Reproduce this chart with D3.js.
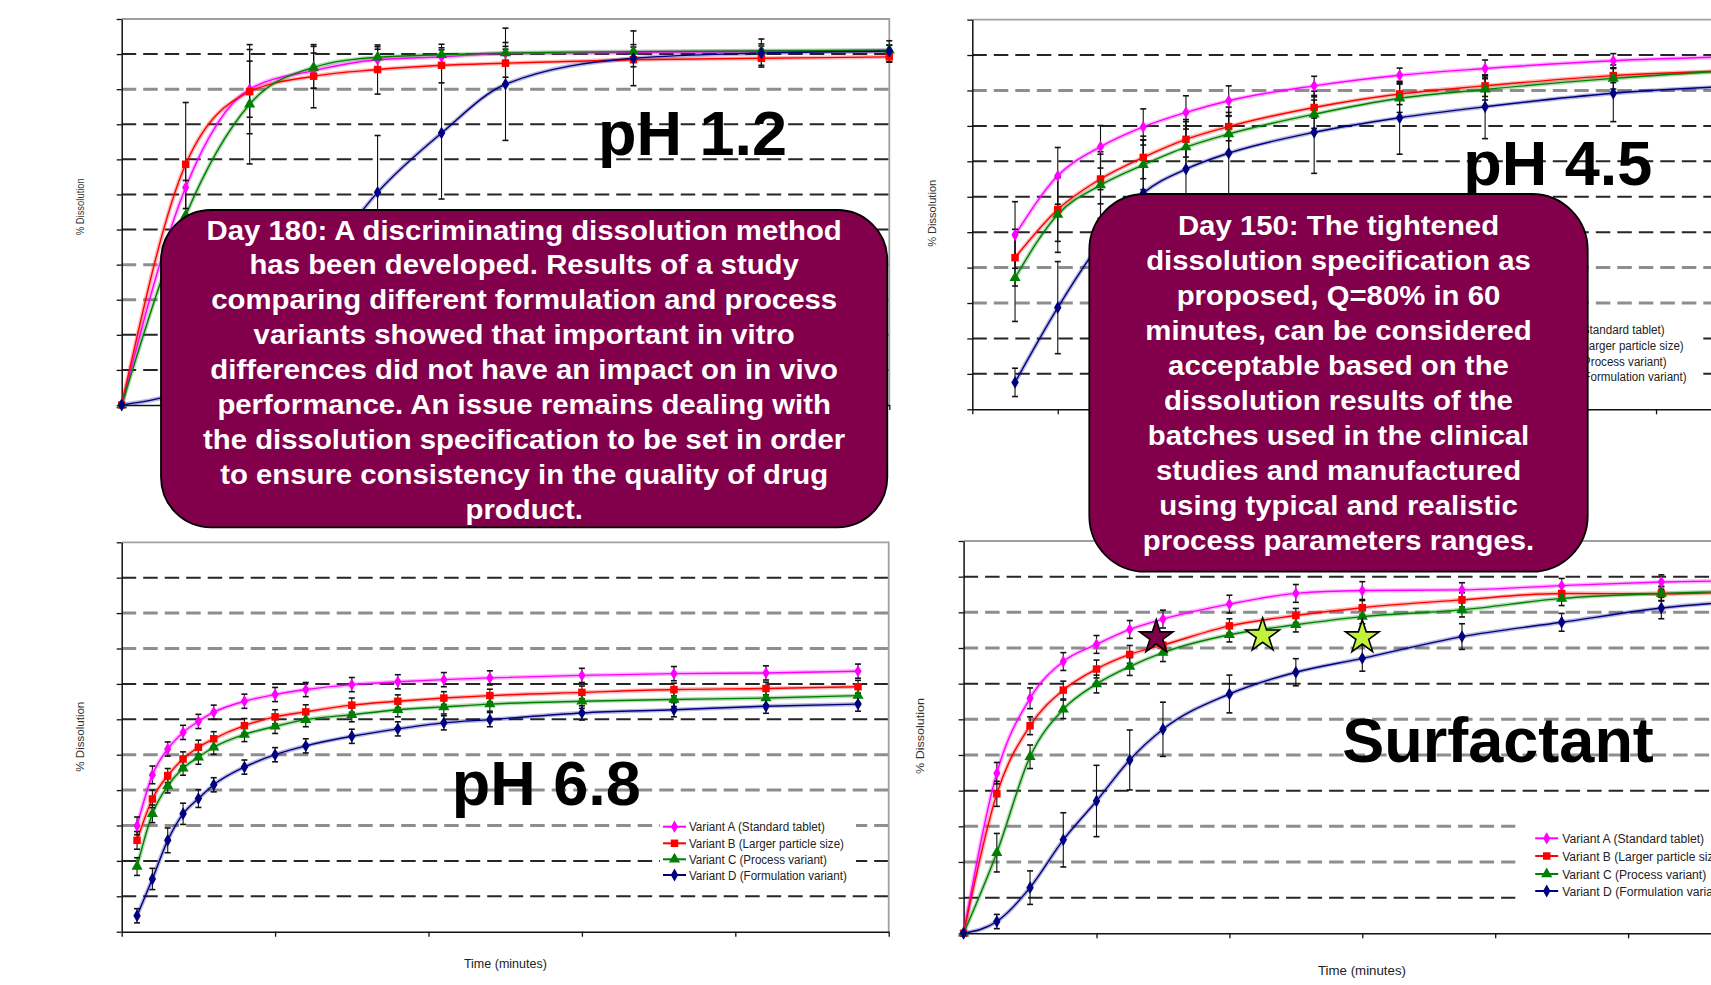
<!DOCTYPE html>
<html>
<head>
<meta charset="utf-8">
<script src="https://cdn.jsdelivr.net/npm/d3@7"></script>
<style>
  html, body { margin: 0; padding: 0; background: #fff; overflow: hidden; }
  svg { display: block; }
  text { font-family: "Liberation Sans", Arial, sans-serif; }
</style>
</head>
<body>
<svg id="chart" width="1711" height="985"></svg>
<script>
// ---------- data ----------
const seriesNames = [
  "Variant A (Standard tablet)",
  "Variant B (Larger particle size)",
  "Variant C (Process variant)",
  "Variant D (Formulation variant)"
];

// pH 1.2
const ph12Time = [0, 5, 10, 15, 20, 25, 30, 40, 50, 60];
const ph12A = [0, 62, 90, 95.3, 98.4, 99.2, 100.2, 100.5, 100.8, 101];
const ph12B = [0, 68.6, 89.3, 93.7, 95.6, 96.8, 97.4, 98.4, 98.8, 99.2];
const ph12C = [0, 54, 85.7, 96.2, 99.1, 99.8, 100.3, 100.7, 100.9, 101.1];
const ph12D = [0, 4, 13, 37, 60.6, 77.5, 91.4, 98.8, 100.3, 100.8];
const ph12ErrA = [0, 6, 8, 5, 3, 2, 2, 1.5, 1.5, 1.5];
const ph12ErrB = [0, 17.6, 12, 9, 7, 5, 4, 2, 2, 1.5];
const ph12ErrC = [0, 10, 17, 6, 3, 3, 3, 2, 2, 1.5];
const ph12ErrD = [0, 3, 8, 15, 16.2, 18.8, 16, 7.8, 4, 3];

// pH 4.5
const ph45Time = [5, 10, 15, 20, 25, 30, 40, 50, 60, 75, 90];
const ph45A = [49.2, 65.9, 74.1, 79.7, 83.8, 87.1, 91.3, 94.3, 96.2, 98.4, 99.6];
const ph45B = [42.8, 56.4, 65.0, 71.1, 76.2, 79.8, 85.2, 89.0, 91.3, 94.2, 95.6];
const ph45C = [37.1, 55.0, 63.3, 69.0, 74.0, 77.7, 83.3, 87.8, 90.3, 93.4, 95.8];
const ph45D = [7.6, 28.7, 47, 61.0, 67.8, 72.3, 78.2, 82.3, 85.4, 89.2, 91.3];
const ph45ErrA = [9.4, 8, 6, 5.1, 4.7, 4.2, 2.7, 2, 2.4, 2, 2];
const ph45ErrB = [8, 9, 7, 6, 5, 4, 3, 3, 3, 2, 2];
const ph45ErrC = [12.3, 10.7, 9.4, 7, 6, 5, 4, 4, 3, 3, 3];
const ph45ErrD = [4, 13, 15, 15, 14, 13, 11.6, 10.3, 9, 8, 7];

// pH 6.8
const ph68Time = [1, 2, 3, 4, 5, 6, 8, 10, 12, 15, 18, 21, 24, 30, 36, 42, 48];
const ph68A = [29.9, 44.3, 51.6, 56.3, 59.4, 62.0, 65.1, 67.0, 68.4, 69.8, 70.6, 71.2, 71.7, 72.4, 72.9, 73.1, 73.6];
const ph68B = [25.8, 37.5, 44.1, 48.8, 52.1, 54.5, 58.2, 60.7, 62.1, 64.0, 65.1, 66.0, 66.7, 67.6, 68.4, 68.7, 69.2];
const ph68C = [18.4, 33.3, 41.2, 46.2, 49.3, 52.1, 55.7, 58.0, 59.9, 61.3, 62.7, 63.5, 64.3, 65.1, 65.6, 66.0, 66.7];
const ph68D = [4.5, 14.9, 25.8, 33.3, 37.6, 41.5, 46.5, 50.0, 52.5, 55.2, 57.3, 59.0, 59.9, 61.8, 62.7, 63.7, 64.3];
const ph68ErrA = [2.5, 2.5, 2, 2, 2, 2, 2, 2, 2, 2, 2, 2, 2, 2, 2, 2, 2];
const ph68ErrB = [2.5, 2.5, 2, 2, 2, 2, 2, 2, 2, 2, 1.8, 1.8, 1.8, 1.8, 1.8, 1.8, 1.8];
const ph68ErrC = [2.5, 2.5, 2, 2, 2, 2, 2, 2, 2, 2, 2, 2, 2, 2, 2, 2, 2];
const ph68ErrD = [2, 3, 3.5, 3, 2.5, 2, 2, 2, 2, 2, 2, 2, 2, 2, 2, 2, 2];

// Surfactant medium
const surfTime = [0, 5, 10, 15, 20, 25, 30, 40, 50, 60, 75, 90, 105, 120];
const surfA = [0, 44.9, 65.9, 76.2, 81.0, 85.2, 88.1, 92.3, 95.3, 96.1, 96.3, 97.5, 98.5, 99.0];
const surfB = [0, 39.1, 58.2, 68.2, 74.1, 78.2, 80.8, 86.2, 89.1, 91.3, 93.5, 95.3, 95.2, 96.0];
const surfC = [0, 22.6, 49.5, 62.8, 69.9, 74.8, 78.7, 83.7, 86.5, 88.8, 90.7, 93.9, 95.3, 96.2];
const surfD = [0, 3.3, 12.8, 26.2, 37.1, 48.6, 57.2, 67.1, 73.2, 77.1, 83.2, 87.2, 91.2, 93.5];
const surfErrA = [0, 3, 2.9, 2.5, 2.5, 2.5, 2.5, 2.5, 2.5, 2.5, 2, 2, 2, 2];
const surfErrB = [0, 3.5, 2.5, 2.5, 2.5, 2.5, 2.5, 2, 2, 2, 2, 2, 2, 2];
const surfErrC = [0, 5.4, 3.3, 2.6, 2.5, 2.5, 2.5, 2, 2, 2, 2, 2, 2, 2];
const surfErrD = [0, 2, 4.7, 7.6, 10, 8.4, 7.6, 5.3, 3.8, 3.6, 3.6, 2.5, 3, 3];

// Specification check points on the surfactant profile
const starTime = [29, 45, 60];
const starValue = [83, 83.5, 83];
const starKind = ["current", "target", "target"];

// Gridline levels (% dissolved) and y-axis ticks
const gridLevels = [10, 20, 30, 40, 50, 60, 70, 80, 90, 100];
const yTicks = [0, 10, 20, 30, 40, 50, 60, 70, 80, 90, 100, 110];

// Call-out texts
const noteDay180 = [
  "Day 180: A discriminating dissolution method",
  "has been developed. Results of a study",
  "comparing different formulation and process",
  "variants showed that important in vitro",
  "differences did not have an impact on in vivo",
  "performance. An issue remains dealing with",
  "the dissolution specification to be set in order",
  "to ensure consistency in the quality of drug",
  "product."
];
const noteDay150 = [
  "Day 150: The tightened",
  "dissolution specification as",
  "proposed, Q=80% in 60",
  "minutes, can be considered",
  "acceptable based on the",
  "dissolution results of the",
  "batches used in the clinical",
  "studies and manufactured",
  "using typical and realistic",
  "process parameters ranges."
];

// ---------- styling ----------
const colors = ["#ff00ff", "#ff0000", "#008000", "#000080"];
const symbolTypes = [d3.symbolDiamond, d3.symbolSquare, d3.symbolTriangle, d3.symbolDiamond];
const symbolSizes = [44, 56, 54, 48];

// ---------- panel layout ----------
const panels = [
  {
    title: "pH 1.2", titleX: 598, titleY: 155,
    left: 121.7, right: 889.3, top: 19, bottom: 405,
    xMax: 60, xStep: 10,
    time: ph12Time, series: [ph12A, ph12B, ph12C, ph12D],
    errs: [ph12ErrA, ph12ErrB, ph12ErrC, ph12ErrD],
    shade: "bbggbbbbgb",
    yLabel: { cx: 80.3, cy: 206.7, len: 57 }
  },
  {
    title: "pH 4.5", titleX: 1463.3, titleY: 185,
    left: 972.3, right: 1741.5, top: 19.6, bottom: 409.3,
    xMax: 90, xStep: 10,
    time: ph45Time, series: [ph45A, ph45B, ph45C, ph45D],
    errs: [ph45ErrA, ph45ErrB, ph45ErrC, ph45ErrD],
    shade: "bbggbbbbgb",
    yLabel: { cx: 931.7, cy: 213.3, len: 67 },
    legend: { markerX: 1514.3, textX: 1528.7, rows: [329.3, 345.3, 361, 376.7], lens: [136, 155, 138, 158], bg: [1499, 319, 198, 68] }
  },
  {
    title: "pH 6.8", titleX: 451.8, titleY: 805,
    left: 121.7, right: 888.7, top: 542.3, bottom: 931.7,
    xMax: 50, xStep: 10,
    time: ph68Time, series: [ph68A, ph68B, ph68C, ph68D],
    errs: [ph68ErrA, ph68ErrB, ph68ErrC, ph68ErrD],
    shade: "bbgggbbggb",
    yLabel: { cx: 80.4, cy: 736.7, len: 70 },
    xLabel: { cx: 505.4, y: 967.7, len: 83 },
    legend: { markerX: 674.5, textX: 688.9, rows: [826.7, 843.3, 859.3, 875], lens: [136, 155, 138, 158], bg: [660, 816, 196, 68] }
  },
  {
    title: "Surfactant", titleX: 1342.3, titleY: 761.7,
    left: 963.6, right: 1761, top: 541, bottom: 933.3,
    xMax: 120, xStep: 20,
    time: surfTime, series: [surfA, surfB, surfC, surfD],
    errs: [surfErrA, surfErrB, surfErrC, surfErrD],
    shade: "bggbggbggb",
    yLabel: { cx: 920, cy: 736, len: 76 },
    xLabel: { cx: 1362, y: 975, len: 88 },
    legend: { markerX: 1546.7, textX: 1562.2, rows: [838.3, 856, 874, 891], lens: [142, 162, 144, 165], bg: [1515.5, 821, 230, 86] },
    stars: true
  }
];

const svg = d3.select("#chart");

function drawPanel(p) {
  const g = svg.append("g");
  const x = d3.scaleLinear().domain([0, p.xMax]).range([p.left, p.right]);
  const y = d3.scaleLinear().domain([0, 110]).range([p.bottom, p.top]);

  // dashed horizontal gridlines
  gridLevels.forEach((v, i) => {
    const light = p.shade[i] === "g";
    g.append("line")
      .attr("x1", p.left).attr("x2", p.right)
      .attr("y1", y(v)).attr("y2", y(v))
      .attr("stroke", light ? "#8e8e8e" : "#262626")
      .attr("stroke-width", light ? 3 : 2)
      .attr("stroke-dasharray", "14.5,7");
  });

  // plot frame: top and right in grey
  g.append("path")
    .attr("d", `M${p.left},${y(110)}H${p.right}V${p.bottom}`)
    .attr("fill", "none").attr("stroke", "#a0a0a0").attr("stroke-width", 1.8);

  // axes
  const ay = g.append("g").attr("transform", `translate(${p.left},0)`)
    .call(d3.axisLeft(y).tickValues(yTicks).tickSize(5).tickSizeOuter(0).tickFormat(""));
  const ax = g.append("g").attr("transform", `translate(0,${p.bottom})`)
    .call(d3.axisBottom(x).tickValues(d3.range(0, p.xMax + 0.01, p.xStep)).tickSize(5).tickSizeOuter(0).tickFormat(""));
  [ay, ax].forEach(a => {
    a.select(".domain").attr("stroke", "#111").attr("stroke-width", 1.5);
    a.selectAll(".tick line").attr("stroke", "#111").attr("stroke-width", 1.3);
  });

  const line = d3.line()
    .x((d, i) => x(p.time[i]))
    .y(d => y(d))
    .curve(d3.curveMonotoneX);

  // soft halo under each curve, then the curve
  p.series.forEach((s, k) => {
    g.append("path").datum(s).attr("d", line)
      .attr("fill", "none").attr("stroke", colors[k])
      .attr("stroke-opacity", 0.28).attr("stroke-width", 4.2);
  });
  p.series.forEach((s, k) => {
    g.append("path").datum(s).attr("d", line)
      .attr("fill", "none").attr("stroke", colors[k]).attr("stroke-width", 1.4);
  });

  // error bars (±SD)
  p.series.forEach((s, k) => {
    const e = p.errs[k];
    s.forEach((v, i) => {
      if (!e[i]) return;
      const cx = x(p.time[i]);
      const y1 = y(v + e[i]), y2 = y(v - e[i]);
      g.append("line").attr("x1", cx).attr("x2", cx).attr("y1", y1).attr("y2", y2)
        .attr("stroke", "#111").attr("stroke-width", 1.1);
      [y1, y2].forEach(yy => g.append("line")
        .attr("x1", cx - 3).attr("x2", cx + 3).attr("y1", yy).attr("y2", yy)
        .attr("stroke", "#111").attr("stroke-width", 1.6));
    });
  });

  // markers
  p.series.forEach((s, k) => {
    const sym = d3.symbol().type(symbolTypes[k]).size(symbolSizes[k]);
    s.forEach((v, i) => {
      g.append("path").attr("d", sym)
        .attr("transform", `translate(${x(p.time[i])},${y(v)})`)
        .attr("fill", colors[k]);
    });
  });

  // specification stars
  if (p.stars) {
    const star = d3.symbol().type(d3.symbolStar).size(350);
    starTime.forEach((t, i) => {
      g.append("path").attr("d", star)
        .attr("transform", `translate(${x(t)},${y(starValue[i])})`)
        .attr("fill", starKind[i] === "current" ? "#7e0046" : "#c3f23a")
        .attr("stroke", "#000").attr("stroke-width", 1.6)
        .attr("stroke-linejoin", "miter");
    });
  }

  // legend
  const L = p.legend;
  if (L) {
    g.append("rect").attr("x", L.bg[0]).attr("y", L.bg[1])
      .attr("width", L.bg[2]).attr("height", L.bg[3]).attr("fill", "#fff");
    seriesNames.forEach((name, k) => {
      const ry = L.rows[k];
      g.append("line").attr("x1", L.markerX - 11.5).attr("x2", L.markerX + 11.5)
        .attr("y1", ry).attr("y2", ry).attr("stroke", colors[k]).attr("stroke-width", 2);
      g.append("path").attr("d", d3.symbol().type(symbolTypes[k]).size(symbolSizes[k]))
        .attr("transform", `translate(${L.markerX},${ry})`).attr("fill", colors[k]);
      g.append("text").attr("x", L.textX).attr("y", ry + 4.5)
        .attr("font-size", 12.5).attr("fill", "#222")
        .attr("textLength", L.lens[k]).attr("lengthAdjust", "spacingAndGlyphs")
        .text(name);
    });
  }

  // axis titles
  g.append("text")
    .attr("transform", `translate(${p.yLabel.cx + 4},${p.yLabel.cy}) rotate(-90)`)
    .attr("text-anchor", "middle").attr("font-size", 11).attr("fill", "#333")
    .attr("textLength", p.yLabel.len).attr("lengthAdjust", "spacingAndGlyphs")
    .text("% Dissolution");
  if (p.xLabel) {
    g.append("text")
      .attr("x", p.xLabel.cx).attr("y", p.xLabel.y)
      .attr("text-anchor", "middle").attr("font-size", 12).attr("fill", "#222")
      .attr("textLength", p.xLabel.len).attr("lengthAdjust", "spacingAndGlyphs")
      .text("Time (minutes)");
  }

  // medium label
  g.append("text").attr("x", p.titleX).attr("y", p.titleY)
    .attr("font-size", 63).attr("font-weight", "bold").attr("fill", "#000")
    .text(p.title);
}

panels.forEach(drawPanel);

// ---------- call-out boxes ----------
const notes = [
  { lines: noteDay180, x: 161, y: 210, w: 726.3, h: 317.3, r: 50, first: 239.5, step: 34.9 },
  { lines: noteDay150, x: 1089.3, y: 194, w: 498.4, h: 377.7, r: 56, first: 235, step: 35 }
];
notes.forEach(n => {
  const g = svg.append("g");
  g.append("rect").attr("x", n.x).attr("y", n.y).attr("width", n.w).attr("height", n.h)
    .attr("rx", n.r).attr("ry", n.r)
    .attr("fill", "#82004b").attr("stroke", "#000").attr("stroke-width", 1.8);
  // slightly widened bold lettering, centred in the box
  g.selectAll("text").data(n.lines).enter().append("text")
    .attr("transform", (d, i) => `translate(${n.x + n.w / 2},${n.first + i * n.step}) scale(1.087,1)`)
    .attr("text-anchor", "middle")
    .attr("font-size", 27).attr("font-weight", "bold").attr("fill", "#fff")
    .text(d => d);
});
</script>
</body>
</html>
